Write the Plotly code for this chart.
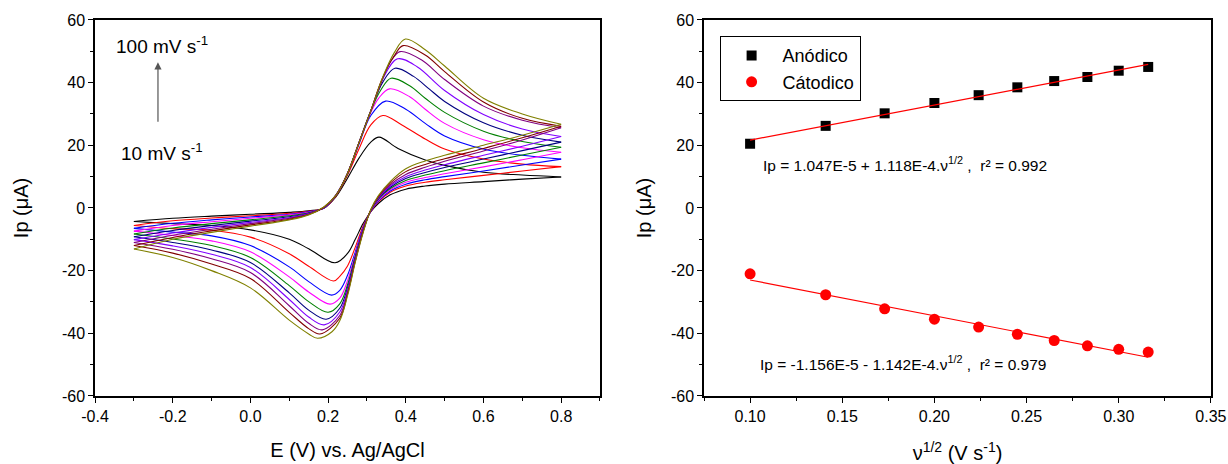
import plotly.graph_objects as go

# ---------------- Cyclic voltammograms (left panel) ----------------
scan_rates = [10, 20, 30, 40, 50, 60, 70, 80, 90, 100]  # mV s-1
cv_colors = ["#000000", "#ff0000", "#0000ff", "#ff00ff", "#008000",
             "#000080", "#8000ff", "#800080", "#800000", "#808000"]

# forward (anodic) sweeps, -0.3 V -> 0.8 V
fwd_E = [
    [-0.30, -0.20, -0.10, 0.00, 0.10, 0.15, 0.19, 0.22, 0.25, 0.28, 0.31, 0.331, 0.38, 0.45, 0.50, 0.60, 0.70, 0.80],
    [-0.30, -0.20, -0.10, 0.00, 0.10, 0.15, 0.19, 0.22, 0.25, 0.28, 0.31, 0.341, 0.39, 0.45, 0.50, 0.60, 0.70, 0.80],
    [-0.30, -0.20, -0.10, 0.00, 0.10, 0.15, 0.19, 0.22, 0.25, 0.28, 0.31, 0.348, 0.40, 0.45, 0.50, 0.60, 0.70, 0.80],
    [-0.30, -0.20, -0.10, 0.00, 0.10, 0.15, 0.19, 0.22, 0.25, 0.28, 0.31, 0.33, 0.358, 0.41, 0.45, 0.50, 0.60, 0.70, 0.80],
    [-0.30, -0.20, -0.10, 0.00, 0.10, 0.15, 0.19, 0.22, 0.25, 0.28, 0.31, 0.335, 0.362, 0.41, 0.45, 0.50, 0.60, 0.70, 0.80],
    [-0.30, -0.20, -0.10, 0.00, 0.10, 0.15, 0.19, 0.22, 0.25, 0.28, 0.31, 0.34, 0.372, 0.42, 0.46, 0.50, 0.60, 0.70, 0.80],
    [-0.30, -0.20, -0.10, 0.00, 0.10, 0.15, 0.19, 0.22, 0.25, 0.28, 0.31, 0.34, 0.379, 0.43, 0.50, 0.60, 0.70, 0.80],
    [-0.30, -0.20, -0.10, 0.00, 0.10, 0.15, 0.19, 0.22, 0.25, 0.28, 0.31, 0.34, 0.36, 0.385, 0.44, 0.50, 0.60, 0.70, 0.80],
    [-0.30, -0.20, -0.10, 0.00, 0.10, 0.15, 0.19, 0.22, 0.25, 0.28, 0.31, 0.34, 0.37, 0.393, 0.45, 0.50, 0.60, 0.70, 0.80],
    [-0.30, -0.20, -0.10, 0.00, 0.10, 0.15, 0.19, 0.22, 0.25, 0.28, 0.31, 0.34, 0.37, 0.399, 0.45, 0.50, 0.60, 0.70, 0.80],
]
fwd_I = [
    [-4.3, -3.3, -2.6, -2.0, -1.4, -0.9, 0.0, 3.5, 9.5, 16.0, 21.0, 22.6, 19.0, 15.3, 13.6, 11.4, 10.5, 9.9],
    [-5.6, -4.1, -3.2, -2.5, -1.7, -1.1, 0.0, 3.8, 10.5, 19.0, 26.5, 29.5, 26.5, 22.0, 18.8, 15.6, 14.0, 13.2],
    [-6.5, -4.9, -3.8, -2.9, -2.0, -1.2, 0.0, 4.0, 11.0, 20.5, 29.5, 34.1, 31.5, 27.0, 23.0, 18.8, 16.8, 15.6],
    [-7.4, -5.6, -4.4, -3.3, -2.2, -1.4, 0.1, 4.0, 11.0, 21.0, 30.5, 35.0, 38.0, 35.5, 31.5, 27.0, 21.8, 19.2, 17.8],
    [-8.3, -6.4, -5.0, -3.8, -2.5, -1.5, 0.1, 4.0, 11.0, 21.0, 31.0, 37.5, 41.4, 39.0, 35.0, 30.5, 24.5, 21.2, 19.4],
    [-9.2, -7.2, -5.6, -4.2, -2.8, -1.7, 0.2, 4.0, 11.0, 21.0, 31.0, 40.0, 44.6, 42.0, 38.0, 34.0, 27.2, 23.2, 21.0],
    [-10.1, -8.0, -6.2, -4.6, -3.1, -1.8, 0.2, 4.0, 11.0, 21.0, 31.0, 41.0, 47.6, 45.0, 37.5, 29.8, 25.2, 22.8],
    [-11.0, -8.7, -6.8, -5.0, -3.3, -1.9, 0.3, 4.0, 11.0, 21.0, 31.0, 41.0, 46.5, 49.9, 47.3, 41.0, 32.5, 28.0, 25.6],
    [-12.0, -9.4, -7.3, -5.4, -3.6, -2.1, 0.3, 4.0, 11.0, 21.0, 31.0, 41.5, 48.5, 51.8, 48.8, 43.5, 33.8, 28.6, 26.1],
    [-13.1, -10.0, -7.8, -5.8, -3.8, -2.2, 0.4, 4.0, 11.0, 21.0, 31.0, 41.5, 49.5, 53.9, 50.5, 45.3, 35.0, 30.0, 26.7],
]

# reverse (cathodic) sweeps, 0.8 V -> -0.3 V
rev_E = [
    [0.80, 0.70, 0.60, 0.50, 0.45, 0.40, 0.36, 0.33, 0.31, 0.29, 0.27, 0.25, 0.218, 0.15, 0.10, 0.00, -0.10, -0.20, -0.30],
    [0.80, 0.70, 0.60, 0.50, 0.45, 0.40, 0.36, 0.33, 0.31, 0.29, 0.27, 0.25, 0.23, 0.214, 0.15, 0.10, 0.00, -0.10, -0.20, -0.30],
    [0.80, 0.70, 0.60, 0.50, 0.45, 0.40, 0.36, 0.33, 0.31, 0.29, 0.27, 0.25, 0.23, 0.209, 0.15, 0.10, 0.00, -0.10, -0.20, -0.30],
    [0.80, 0.70, 0.60, 0.50, 0.45, 0.40, 0.36, 0.33, 0.31, 0.29, 0.27, 0.25, 0.23, 0.205, 0.15, 0.10, 0.00, -0.10, -0.20, -0.30],
    [0.80, 0.70, 0.60, 0.50, 0.45, 0.40, 0.36, 0.33, 0.31, 0.29, 0.27, 0.25, 0.23, 0.200, 0.15, 0.10, 0.00, -0.10, -0.20, -0.30],
    [0.80, 0.70, 0.60, 0.50, 0.45, 0.40, 0.36, 0.33, 0.31, 0.29, 0.27, 0.25, 0.23, 0.195, 0.15, 0.10, 0.00, -0.10, -0.20, -0.30],
    [0.80, 0.70, 0.60, 0.50, 0.45, 0.40, 0.36, 0.33, 0.31, 0.29, 0.27, 0.25, 0.23, 0.190, 0.15, 0.10, 0.00, -0.10, -0.20, -0.30],
    [0.80, 0.70, 0.60, 0.50, 0.45, 0.40, 0.36, 0.33, 0.31, 0.29, 0.27, 0.25, 0.23, 0.185, 0.15, 0.10, 0.00, -0.10, -0.20, -0.30],
    [0.80, 0.70, 0.60, 0.50, 0.45, 0.40, 0.36, 0.33, 0.31, 0.29, 0.27, 0.25, 0.23, 0.179, 0.15, 0.10, 0.00, -0.10, -0.20, -0.30],
    [0.80, 0.70, 0.60, 0.50, 0.45, 0.40, 0.36, 0.33, 0.31, 0.29, 0.27, 0.25, 0.23, 0.21, 0.173, 0.15, 0.10, 0.00, -0.10, -0.20, -0.30],
]
rev_I = [
    [9.9, 9.2, 8.4, 7.6, 7.0, 6.0, 4.2, 1.5, -1.2, -5.0, -10.0, -14.5, -17.5, -13.0, -10.0, -7.0, -5.6, -5.0, -4.3],
    [13.2, 11.8, 10.4, 9.0, 8.2, 7.0, 5.0, 2.0, -1.1, -5.8, -12.5, -18.5, -21.8, -23.3, -18.6, -14.6, -9.3, -7.1, -6.6, -5.6],
    [15.6, 13.7, 11.8, 10.0, 9.0, 7.6, 5.4, 2.3, -1.0, -6.3, -14.0, -21.5, -26.3, -27.8, -23.5, -18.8, -12.0, -8.9, -7.7, -6.5],
    [17.8, 15.4, 13.1, 10.9, 9.7, 8.2, 5.8, 2.6, -0.9, -6.6, -14.8, -23.2, -28.8, -30.7, -26.8, -22.0, -14.0, -10.5, -8.8, -7.4],
    [19.4, 16.9, 14.4, 11.9, 10.5, 8.8, 6.2, 2.9, -0.8, -6.9, -15.4, -24.5, -30.6, -33.3, -29.9, -24.8, -15.8, -12.0, -9.9, -8.3],
    [21.0, 18.3, 15.6, 12.9, 11.3, 9.4, 6.6, 3.1, -0.7, -7.1, -15.9, -25.4, -32.0, -35.5, -32.6, -27.1, -17.4, -13.4, -11.0, -9.2],
    [22.8, 19.7, 16.8, 13.8, 12.1, 10.0, 7.0, 3.3, -0.7, -7.3, -16.3, -26.2, -33.2, -37.3, -34.8, -29.2, -19.0, -14.8, -12.1, -10.1],
    [25.6, 21.7, 18.2, 14.9, 13.0, 10.7, 7.4, 3.5, -0.6, -7.5, -16.7, -26.9, -34.3, -38.9, -36.8, -31.2, -20.6, -16.2, -13.2, -11.0],
    [26.1, 22.4, 19.0, 15.7, 13.9, 11.6, 7.9, 3.8, -0.6, -7.7, -17.0, -27.5, -35.2, -40.2, -38.5, -33.3, -22.5, -17.9, -14.4, -12.0],
    [26.7, 23.2, 20.0, 16.8, 15.0, 12.5, 8.4, 4.0, -0.5, -8.0, -17.3, -28.0, -36.0, -39.5, -41.6, -40.2, -35.8, -25.5, -20.0, -15.8, -13.1],
]

# ---------------- Peak current vs square root of scan rate (right panel) ----------------
sqrt_v = [0.100, 0.141, 0.173, 0.200, 0.224, 0.245, 0.265, 0.283, 0.300, 0.316]
ip_anodic = [20.5, 26.2, 30.2, 33.5, 36.0, 38.5, 40.5, 41.8, 43.8, 45.0]
ip_cathodic = [-21.0, -27.7, -32.2, -35.5, -38.0, -40.3, -42.3, -44.0, -45.1, -46.0]

# linear fits (A vs (V s-1)^1/2), shown in uA
fit_anodic = (1.047e-5, 1.118e-4)
fit_cathodic = (-1.156e-5, -1.142e-4)
eq_anodic = "Ip = 1.047E-5 + 1.118E-4.ν<sup>1/2</sup> ,  r² = 0.992"
eq_cathodic = "Ip = -1.156E-5 - 1.142E-4.ν<sup>1/2</sup> ,  r² = 0.979"

# tick labels (plain hyphen for negatives)
cv_x_ticks = [-0.4, -0.2, 0.0, 0.2, 0.4, 0.6, 0.8]
cv_x_labels = ["-0.4", "-0.2", "0.0", "0.2", "0.4", "0.6", "0.8"]
y_ticks = [-60, -40, -20, 0, 20, 40, 60]
y_labels = ["-60", "-40", "-20", "0", "20", "40", "60"]
rv_x_ticks = [0.10, 0.15, 0.20, 0.25, 0.30, 0.35]
rv_x_labels = ["0.10", "0.15", "0.20", "0.25", "0.30", "0.35"]

FONT = "Arial, Liberation Sans, sans-serif"

fig = go.Figure()

for k in range(len(scan_rates)):
    for E, I in ((fwd_E[k], fwd_I[k]), (rev_E[k], rev_I[k])):
        fig.add_trace(go.Scatter(
            x=E, y=I, mode="lines", xaxis="x", yaxis="y",
            line=dict(color=cv_colors[k], width=1.1, shape="spline", smoothing=1.0),
            showlegend=False, hoverinfo="skip"))

fig.add_trace(go.Scatter(
    x=sqrt_v, y=ip_anodic, mode="markers", name="Anódico", xaxis="x2", yaxis="y2",
    marker=dict(symbol="square", size=10, color="black")))
fig.add_trace(go.Scatter(
    x=sqrt_v, y=ip_cathodic, mode="markers", name="Cátodico", xaxis="x2", yaxis="y2",
    marker=dict(symbol="circle", size=11, color="#ff0000")))

x_fit = [sqrt_v[0], sqrt_v[-1]]
for a, b in (fit_anodic, fit_cathodic):
    fig.add_trace(go.Scatter(
        x=x_fit, y=[(a + b * x) * 1e6 for x in x_fit], mode="lines",
        xaxis="x2", yaxis="y2", line=dict(color="#ff0000", width=1.2),
        showlegend=False, hoverinfo="skip"))

minor_common = dict(ticks="outside", ticklen=3, tickwidth=1, tickcolor="black", showgrid=False)
axis_common = dict(
    showline=True, linecolor="black", linewidth=1.5, mirror=True,
    ticks="outside", ticklen=5, tickwidth=1.2, tickcolor="black",
    showgrid=False, zeroline=False, automargin=False,
    tickfont=dict(family=FONT, size=16, color="black"),
    tickmode="array", ticklabeloverflow="allow",
)
TITLE_FONT = dict(family=FONT, size=20, color="black")

fig.update_layout(
    width=1228, height=464,
    margin=dict(l=0, r=0, t=0, b=0),
    paper_bgcolor="white", plot_bgcolor="white",
    font=dict(family=FONT, color="black"),
    xaxis=dict(axis_common, domain=[0.0774, 0.4886], range=[-0.4, 0.9],
               tickvals=cv_x_ticks, ticktext=cv_x_labels,
               minor=dict(minor_common, tickmode="linear", tick0=-0.4, dtick=0.1),
               title=dict(text="E (V) vs. Ag/AgCl", font=TITLE_FONT, standoff=19)),
    yaxis=dict(axis_common, domain=[0.1466, 0.957], range=[-60, 60],
               tickvals=y_ticks, ticktext=y_labels,
               minor=dict(minor_common, tickmode="linear", tick0=-60, dtick=10),
               title=dict(text="Ip (μA)", font=TITLE_FONT, standoff=28)),
    xaxis2=dict(axis_common, domain=[0.5733, 0.9862], range=[0.075, 0.3501], anchor="y2",
                tickvals=rv_x_ticks, ticktext=rv_x_labels,
                minor=dict(minor_common, tickmode="linear", tick0=0.075, dtick=0.025),
                title=dict(text="ν<sup>1/2</sup> (V s<sup>-1</sup>)", font=TITLE_FONT, standoff=27)),
    yaxis2=dict(axis_common, domain=[0.1466, 0.957], range=[-60, 60], anchor="x2",
                tickvals=y_ticks, ticktext=y_labels,
                minor=dict(minor_common, tickmode="linear", tick0=-60, dtick=10),
                title=dict(text="Ip (μA)", font=TITLE_FONT, standoff=14)),
    legend=dict(x=0.586, y=0.922, xanchor="left", yanchor="top",
                bordercolor="black", borderwidth=1, bgcolor="white",
                font=dict(family=FONT, size=18), itemwidth=52,
                tracegroupgap=0),
    showlegend=True,
)

fig.add_annotation(x=-0.238, y=46.5, ax=-0.238, ay=27.0, xref="x", yref="y",
                   axref="x", ayref="y", showarrow=True, arrowhead=2, arrowsize=1.2,
                   arrowwidth=1.2, arrowcolor="#555555", text="")
fig.add_annotation(x=-0.228, y=52.0, xref="x", yref="y", showarrow=False,
                   text="100 mV s<sup>-1</sup>", font=dict(family=FONT, size=19))
fig.add_annotation(x=-0.228, y=17.8, xref="x", yref="y", showarrow=False,
                   text="10 mV s<sup>-1</sup>", font=dict(family=FONT, size=19))

fig.add_annotation(x=0.184, y=14.0, xref="x2", yref="y2", showarrow=False,
                   text=eq_anodic, font=dict(family=FONT, size=15.5))
fig.add_annotation(x=0.183, y=-49.6, xref="x2", yref="y2", showarrow=False,
                   text=eq_cathodic, font=dict(family=FONT, size=15.5))

fig.write_html("out.html")
